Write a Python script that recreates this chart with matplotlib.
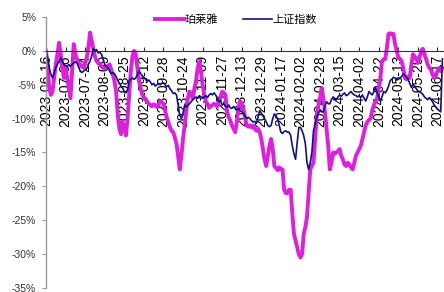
import matplotlib
matplotlib.use('Agg')
import matplotlib.pyplot as plt
import numpy as np

plt.rcParams['font.family'] = ['Liberation Sans', 'Noto Sans CJK SC', 'DejaVu Sans']

# 珀莱雅 区间涨跌幅 (%)
ply = [
    0, -2.5, -5.5, -6.5, -6.0, -4.0, -2.0, -0.5, 1.2, -0.5, -2.5, -4.0,
    -2.5, -4.0, -5.5, -7.0, -3.0, 1.0, -0.5, -1.2, -1.8, -2.0, -2.3, -2.5,
    -1.8, -1.0, 0.5, 2.7, 1.5, 0.3, -0.8, -1.5, -1.8, -2.0, -2.3, -2.5,
    -2.6, -2.5, -2.2, -2.0, -2.8, -3.5, -4.5, -6.0, -9.5, -11.5, -12.3, -10.5,
    -11.5, -12.5, -10.0, -6.5, -3.0, -0.8, 0.0, -0.5, -2.5, -4.4, -5.5, -6.5,
    -6.8, -7.2, -7.5, -7.8, -8.0, -8.2, -7.9, -8.0, -8.3, -8.0, -7.4, -7.6,
    -7.8, -8.8, -9.8, -10.5, -11.3, -11.8, -12.0, -12.8, -13.7, -15.5, -17.5, -15.5,
    -13.0, -11.0, -8.8, -7.0, -6.0, -6.5, -7.0, -5.5, -4.4, -2.5, -1.5, -3.0,
    -5.0, -6.5, -7.5, -7.8, -8.4, -8.2, -8.0, -7.8, -8.0, -8.2, -7.5, -6.8,
    -6.0, -6.2, -6.5, -9.0, -9.8, -10.3, -11.0, -11.5, -12.0, -10.5, -8.5, -7.4,
    -7.8, -8.5, -9.8, -11.0, -11.2, -11.0, -11.3, -11.0, -11.5, -11.8, -11.5, -12.0,
    -13.0, -14.5, -16.0, -17.0, -15.5, -14.0, -13.0, -14.5, -17.0, -17.3, -17.6, -17.2,
    -17.5, -17.5, -20.5, -21.0, -21.0, -20.5, -20.5, -24.0, -27.0, -28.0, -29.0, -30.0,
    -30.5, -30.0, -27.0, -26.0, -24.5, -21.0, -17.5, -17.0, -16.5, -13.0, -9.5, -8.0,
    -7.0, -5.5, -7.0, -9.0, -11.5, -14.0, -17.5, -16.5, -15.0, -15.2, -15.0, -14.8,
    -14.5, -15.5, -16.0, -16.8, -17.0, -16.5, -16.8, -17.2, -17.5, -16.5, -15.5, -15.0,
    -14.5, -14.0, -13.0, -12.0, -11.0, -10.5, -10.2, -10.0, -8.8, -8.0, -7.5, -7.0,
    -5.5, -4.0, -1.5, -1.3, -1.2, 0.5, 2.5, 2.6, 2.5, 2.5, 1.0, 0.0,
    -1.0, -1.2, -1.5, -2.5, -4.0, -4.2, -3.8, -4.0, -2.0, -0.5, -0.8, -1.2,
    -1.8, -1.0, 0.0, 0.3, -0.5, -1.2, -2.0, -2.5, -2.8, -3.5, -4.0, -3.5,
    -3.0, -2.5, -3.0, -2.5,
]

# 上证指数 区间涨跌幅 (%)
szzs = [
    0, -1.0, -2.5, -3.5, -4.0, -3.2, -2.5, -2.0, -1.5, -1.0, -1.5, -2.0,
    -2.2, -2.3, -2.0, -2.3, -2.0, -1.8, -1.6, -1.8, -2.4, -3.0, -3.2, -3.0,
    -2.8, -2.6, -2.0, -1.5, -0.8, 0.3, 0.0, 0.2, -0.3, -0.2, -0.5, -1.2,
    -2.0, -2.3, -2.5, -3.0, -3.4, -3.2, -3.4, -3.8, -4.4, -4.8, -5.2, -5.5,
    -6.0, -6.2, -5.8, -4.4, -4.2, -4.0, -4.2, -4.0, -3.5, -3.0, -3.3, -3.7,
    -3.9, -4.2, -4.5, -4.3, -4.6, -5.0, -4.8, -5.2, -5.0, -4.8, -5.0, -4.8,
    -4.7, -5.0, -5.3, -5.1, -5.6, -5.9, -6.3, -6.2, -6.5, -8.0, -9.5, -10.0,
    -9.2, -8.0, -8.3, -8.0, -7.8, -7.5, -7.2, -7.0, -6.8, -7.0, -6.6, -6.8,
    -7.0, -6.8, -6.6, -6.9, -6.5, -6.3, -6.5, -6.2, -6.5, -7.0, -7.5, -7.3,
    -8.0, -7.8, -8.2, -8.3, -8.0, -8.4, -8.5, -8.2, -8.5, -8.7, -8.5, -8.8,
    -9.0, -9.2, -9.6, -10.0, -9.8, -10.0, -10.3, -10.5, -10.4, -10.7, -9.8, -8.8,
    -9.2, -9.6, -10.0, -10.5, -11.0, -11.2, -11.0, -10.0, -9.3, -9.6, -10.0, -11.0,
    -12.0, -12.2, -11.9, -11.8, -12.0, -12.0, -12.5, -14.0, -15.2, -16.0, -13.5, -11.3,
    -11.3, -11.8, -12.5, -13.7, -16.5, -17.5, -16.5, -15.0, -11.8, -10.8, -9.8, -9.2,
    -8.8, -9.0, -9.0, -8.2, -7.5, -7.8, -7.8, -7.2, -6.8, -7.0, -7.2, -6.8,
    -6.5, -6.7, -6.4, -6.2, -6.6, -6.5, -6.2, -6.0, -6.3, -6.5, -6.6, -6.8,
    -6.6, -6.9, -6.5, -7.0, -7.4, -6.8, -6.0, -6.3, -6.5, -6.0, -5.4, -6.2,
    -6.8, -7.4, -6.8, -6.0, -6.2, -5.8, -5.2, -4.4, -4.2, -3.9, -4.0, -4.3,
    -4.2, -4.0, -3.8, -3.4, -3.6, -3.9, -4.2, -4.8, -5.4, -5.0, -5.2, -5.6,
    -5.9, -6.0, -6.2, -6.4, -6.8, -7.0, -7.2, -6.9, -7.2, -7.5, -8.0, -8.3,
    -8.6, -8.8, -9.0, -1.2,
]

# 每12个交易日一个刻度
tick_dates = ['2023-06-16', '2023-07-06', '2023-07-24', '2023-08-09', '2023-08-25',
              '2023-09-12', '2023-09-28', '2023-10-24', '2023-11-09', '2023-11-27',
              '2023-12-13', '2023-12-29', '2024-01-17', '2024-02-02', '2024-02-28',
              '2024-03-15', '2024-04-02', '2024-04-22', '2024-05-13', '2024-05-29',
              '2024-06-17']
y_ticks = [5, 0, -5, -10, -15, -20, -25, -30, -35]

fig = plt.figure(figsize=(4.44, 2.92), dpi=100)
ax = fig.add_axes([46 / 444, 4 / 292, 398 / 444, 271 / 292])

x = np.arange(len(ply))
ax.plot(x, ply, color='#E01EE0', lw=2.8, label='珀莱雅', solid_joinstyle='round')
ax.plot(x, szzs, color='#10108C', lw=1.2, label='上证指数')

ax.set_ylim(-35, 5)
ax.set_xlim(0, 244)
ax.set_yticks(y_ticks)
ax.set_yticklabels([f'{v}%' for v in y_ticks], fontsize=7.5, color='#333333')

ax.set_xticks(np.arange(0, 12 * len(tick_dates), 12))
ax.set_xticklabels(tick_dates, fontsize=6.8, color='#333333')

ax.spines['top'].set_visible(False)
ax.spines['right'].set_visible(False)
ax.spines['bottom'].set_position(('data', 0))
ax.spines['bottom'].set_color('#333333')
ax.spines['bottom'].set_linewidth(0.8)
ax.spines['left'].set_color('#999999')
ax.spines['left'].set_linewidth(1.0)
ax.tick_params(axis='x', direction='in', length=3, pad=3, color='#333333', labelrotation=90)
ax.tick_params(axis='y', direction='out', length=3, pad=4, color='#999999')

ax.legend(loc='center', bbox_to_anchor=(236 / 444, 1 - 20 / 292),
          bbox_transform=fig.transFigure, ncol=2, frameon=False,
          fontsize=8, handlelength=2.6, columnspacing=2.2, handletextpad=0.1)

fig.savefig('out.png', dpi=100)
